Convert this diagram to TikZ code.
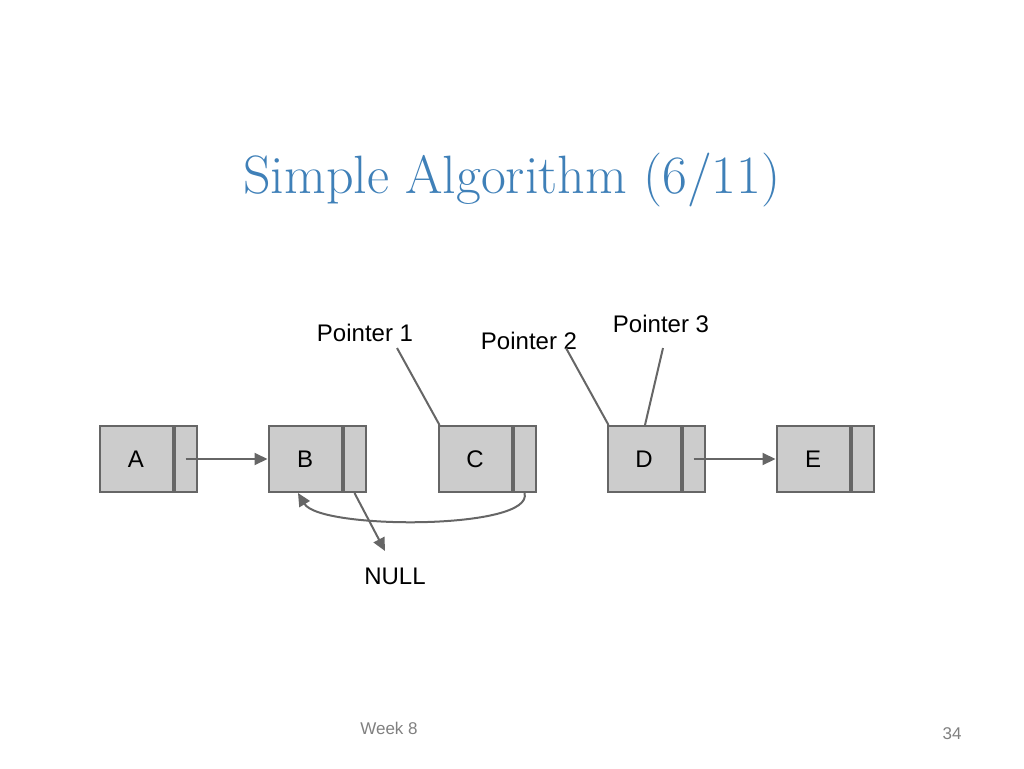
\documentclass[tikz,border=0pt]{standalone}
\usepackage{fontspec}
\setsansfont{Liberation Sans}
\usetikzlibrary{arrows.meta,positioning}
\definecolor{boxfill}{HTML}{CCCCCC}
\definecolor{boxline}{HTML}{666666}
\definecolor{titleblue}{HTML}{3F80B8}
\tikzset{
  cell/.style={draw=boxline,fill=boxfill,line width=2pt,minimum height=66pt,inner sep=0pt,font=\sffamily\fontsize{24}{28}\selectfont},
  datacell/.style={cell,minimum width=73pt},
  nextcell/.style={cell,minimum width=22pt,right=0pt of #1},
  link/.style={draw=boxline,line width=2pt,-{Triangle[length=13pt,width=12pt]}},
  tag/.style={draw=boxline,line width=2pt},
  lbl/.style={font=\sffamily\fontsize{24}{28}\selectfont}
}
\begin{document}
\begin{tikzpicture}[x=1pt,y=-1pt]
    \useasboundingbox (0,0) rectangle (1024,768);
    \node[text=titleblue,font=\fontsize{54}{60}\selectfont] (title) at (512,180) {Simple Algorithm (6/11)};
    % list nodes
    \foreach \n/\x in {A/136,B/305,C/475,D/644,E/813}{
      \node[datacell] (\n) at (\x,459) {\n};
      \node[nextcell=\n] (\n-p) {};
    }
    % links
    \draw[link] (A-p.center) -- (B.west);
    \draw[link] (D-p.center) -- (E.west);
    \draw[link] (C-p.south) .. controls (535,530) and (320,530) .. ([xshift=-7pt]B.south);
    \node[lbl] (null) at (395,576) {NULL};
    \coordinate (null-in) at (385,551);
    \draw[link] (B-p.south) -- (null-in);
    % pointers
    \node[lbl] (p1) at (365,333) {Pointer 1};
    \node[lbl] (p2) at (529,341) {Pointer 2};
    \node[lbl] (p3) at (661,324) {Pointer 3};
    \coordinate (p1-out) at (397,348);
    \coordinate (p2-out) at (566,348);
    \coordinate (p3-out) at (663,348);
    \draw[tag] (p1-out) -- ([xshift=2pt]C.north west);
    \draw[tag] (p2-out) -- ([xshift=2pt]D.north west);
    \draw[tag] (p3-out) -- ([xshift=1pt]D.north);
    % footer
    \node[font=\sffamily\fontsize{17}{20}\selectfont,text=gray] (week) at (389,728) {Week 8};
    \node[font=\sffamily\fontsize{17}{20}\selectfont,text=gray] (page) at (952,734) {34};
\end{tikzpicture}
\end{document}
